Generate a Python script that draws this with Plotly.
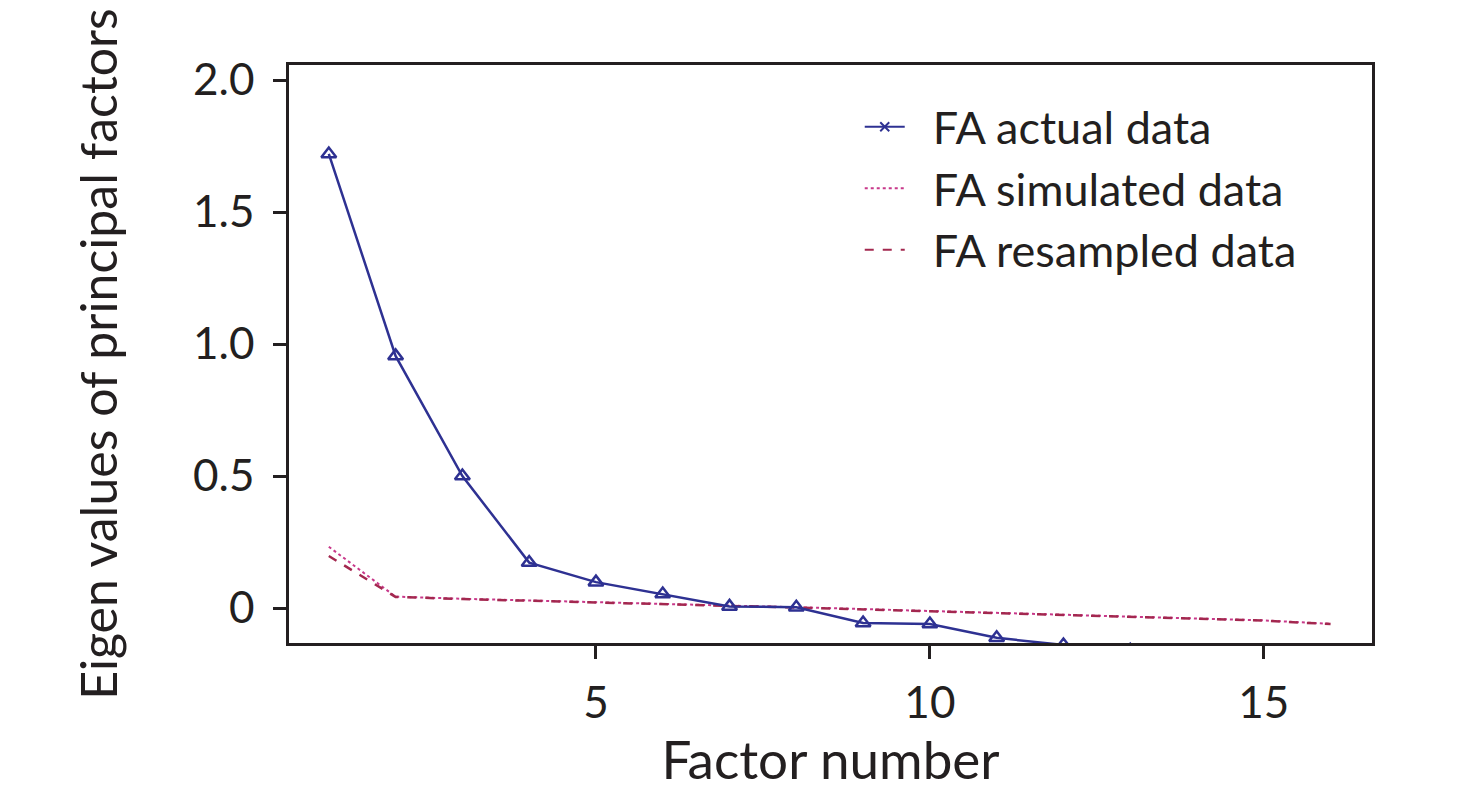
import plotly.graph_objects as go

# Data
factors = list(range(1, 17))
fa_actual = [1.72, 0.955, 0.50, 0.172, 0.098, 0.053, 0.006, 0.003, -0.057, -0.061,
             -0.113, -0.14, -0.16, -0.18, -0.2, -0.22]
fa_simulated = [0.232, 0.043, 0.035, 0.028, 0.021, 0.015, 0.009, 0.003, -0.004, -0.012,
                -0.018, -0.024, -0.031, -0.038, -0.047, -0.06]
fa_resampled = [0.197, 0.042, 0.034, 0.027, 0.020, 0.014, 0.008, 0.002, -0.005, -0.013,
                -0.019, -0.025, -0.032, -0.039, -0.048, -0.061]

y_ticks = [0, 0.5, 1.0, 1.5, 2.0]
y_ticklabels = ["0", "0.5", "1.0", "1.5", "2.0"]
x_ticks = [5, 10, 15]

navy = "#2e3192"
pink = "#c8388a"
crimson = "#a3284f"
ink = "#231f20"
font = "Lato, Open Sans, sans-serif"

fig = go.Figure()

fig.add_trace(go.Scatter(
    x=factors, y=fa_simulated, mode="lines", name="FA simulated data",
    line=dict(color=pink, width=2, dash="dot"), showlegend=False
))
fig.add_trace(go.Scatter(
    x=factors, y=fa_resampled, mode="lines", name="FA resampled data",
    line=dict(color=crimson, width=2.5, dash="dash"), showlegend=False
))
fig.add_trace(go.Scatter(
    x=factors, y=fa_actual, mode="lines+markers", name="FA actual data",
    line=dict(color=navy, width=2.5),
    marker=dict(symbol="triangle-up-open", size=13, color=navy, line=dict(width=2.5)),
    showlegend=False
))

# legend entries (reference legend uses an x marker for actual data)
pad = "\u00a0\u00a0"
fig.add_trace(go.Scatter(
    x=[None], y=[None], mode="lines+markers", name=pad + "FA actual data",
    line=dict(color=navy, width=2),
    marker=dict(symbol="x-thin-open", size=9, color=navy, line=dict(width=2, color=navy))
))
fig.add_trace(go.Scatter(
    x=[None], y=[None], mode="lines", name=pad + "FA simulated data",
    line=dict(color=pink, width=2, dash="dot")
))
fig.add_trace(go.Scatter(
    x=[None], y=[None], mode="lines", name=pad + "FA resampled data",
    line=dict(color=crimson, width=2, dash="dash")
))

fig.update_layout(
    width=1476, height=806,
    margin=dict(l=281, r=112, t=57, b=171),
    plot_bgcolor="white", paper_bgcolor="white",
    font=dict(family=font, size=44, color=ink),
    legend=dict(x=0.527, y=0.955, xanchor="left", yanchor="top",
                bgcolor="rgba(0,0,0,0)", font=dict(size=45), itemwidth=40),
)

fig.update_xaxes(
    range=[0.404, 16.62], tickvals=x_ticks, showgrid=False, zeroline=False,
    showline=True, linecolor=ink, linewidth=2.5, mirror=True,
    ticks="outside", ticklen=13, tickwidth=2.5, tickcolor=ink,
    ticklabelstandoff=6,
    title=dict(text="Factor number", standoff=12),
)
fig.update_yaxes(
    range=[-0.1326, 2.057], tickvals=y_ticks, ticktext=y_ticklabels,
    showgrid=False, zeroline=False,
    showline=True, linecolor=ink, linewidth=2.5, mirror=True,
    ticks="outside", ticklen=13, tickwidth=2.5, tickcolor=ink,
    ticklabelstandoff=10,
    title=dict(text="Eigen values of principal factors", standoff=60,
               font=dict(family=font, size=50, color=ink)),
)

fig.write_html("out.html")
